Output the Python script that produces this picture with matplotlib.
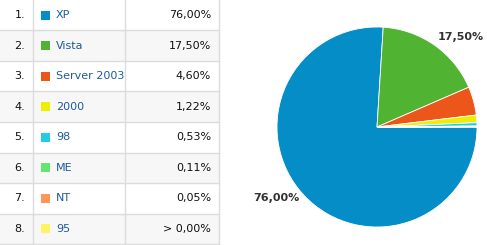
import numpy as np
import matplotlib.pyplot as plt
from matplotlib.patches import Rectangle

# data
names = ['XP', 'Vista', 'Server 2003', '2000', '98', 'ME', 'NT', '95']
shares = [76.00, 17.50, 4.60, 1.22, 0.53, 0.11, 0.05, 0.0]
share_labels = ['76,00%', '17,50%', '4,60%', '1,22%', '0,53%', '0,11%', '0,05%', '> 0,00%']
colors = ['#058dc7', '#50b432', '#ed561b', '#edef00', '#24cbe5', '#64e572', '#ff9655', '#fff263']
pie_labels = ['76,00%', '17,50%', '', '', '', '', '', '']

W, H = 487, 245
fig = plt.figure(figsize=(W / 100, H / 100), dpi=100)
fig.patch.set_facecolor('white')

# table drawn in pixel coordinates
tab = fig.add_axes([0, 0, 1, 1])
tab.set_xlim(0, W)
tab.set_ylim(H, 0)
tab.axis('off')

row_h = 30.5
col_x = [0, 33, 125, 219]
line_c = '#dcdcdc'
for i, name in enumerate(names):
    top = i * row_h
    mid = top + row_h / 2
    bg = 'white' if i % 2 == 0 else '#f7f7f7'
    tab.add_patch(Rectangle((col_x[0], top), col_x[3] - col_x[0], row_h,
                            facecolor=bg, edgecolor='none'))
    tab.plot([col_x[0], col_x[3]], [top + row_h, top + row_h], color=line_c, lw=1)
    tab.text(25, mid, f'{i + 1}.', ha='right', va='center', fontsize=8, color='#111111')
    tab.add_patch(Rectangle((41, mid - 4.5), 9, 9, facecolor=colors[i], edgecolor='none'))
    tab.text(56, mid, name, ha='left', va='center', fontsize=8, color='#1d5b9a')
    tab.text(211, mid, share_labels[i], ha='right', va='center', fontsize=8, color='#111111')
for x in col_x[1:]:
    tab.plot([x, x], [0, len(names) * row_h], color=line_c, lw=1)

# pie chart
cx, cy, r = 377, 127, 100
pax = fig.add_axes([(cx - r * 1.4) / W, (H - cy - r * 1.4) / H, 2.8 * r / W, 2.8 * r / H])
wedges, _ = pax.pie(shares, colors=colors, startangle=0, counterclock=False,
                    wedgeprops=dict(edgecolor='white', linewidth=0.6))
for w, lab in zip(wedges, pie_labels):
    if not lab:
        continue
    ang = np.deg2rad((w.theta1 + w.theta2) / 2 - 8)
    pax.text(1.23 * np.cos(ang), 1.23 * np.sin(ang), lab, ha='center', va='center',
             fontsize=8, fontweight='bold', color='#333333')
pax.set_xlim(-1.4, 1.4)
pax.set_ylim(-1.4, 1.4)
pax.set_aspect('equal')

fig.savefig('out.png', dpi=100, facecolor='white')
